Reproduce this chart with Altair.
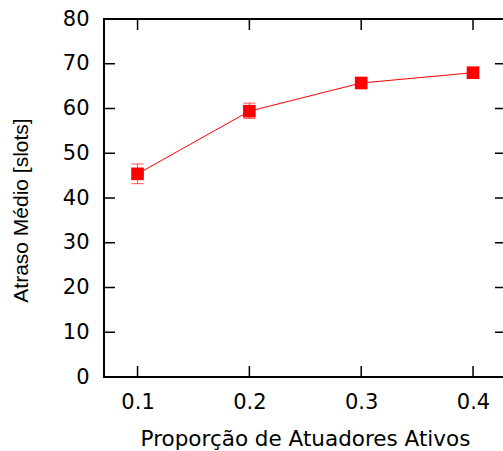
import altair as alt
import pandas as pd

proporcao = [0.1, 0.2, 0.3, 0.4]
atraso = [45.4, 59.4, 65.7, 68.0]
erro_inf = [43.2, 57.8, 65.2, 67.6]
erro_sup = [47.6, 61.2, 66.2, 68.4]

x_ticks = [0.1, 0.2, 0.3, 0.4]
y_ticks = [0, 10, 20, 30, 40, 50, 60, 70, 80]

W, H = 399, 358
TICK = 11
FONT_H = "DejaVu Sans"
FONT_V = "Liberation Sans"

df = pd.DataFrame({"x": proporcao, "y": atraso, "lo": erro_inf, "hi": erro_sup})
dfx = pd.DataFrame({"x": x_ticks})
dfy = pd.DataFrame({"y": y_ticks})

xscale = alt.Scale(domain=[0.07, 0.4268], nice=False, zero=False)
yscale = alt.Scale(domain=[0, 80], nice=False)

xaxis = alt.Axis(values=x_ticks, format=".1f", ticks=False, domain=False, grid=False,
                 labelFontSize=21, labelFont=FONT_H, labelColor="black",
                 labelPadding=31, labelBaseline="alphabetic",
                 title="Proporção de Atuadores Ativos", titleFont=FONT_H, titleFontSize=21.5,
                 titleFontWeight="normal", titleColor="black",
                 titleX=201, titleY=68, titleBaseline="alphabetic")
yaxis = alt.Axis(values=y_ticks, ticks=False, domain=False, grid=False,
                 labelFontSize=21, labelFont=FONT_H, labelColor="black", labelPadding=15,
                 title="Atraso Médio [slots]", titleFont=FONT_V, titleFontSize=21,
                 titleFontWeight="normal", titleColor="black",
                 titleX=-83, titleY=H / 2 + 12, titleBaseline="middle", titleAngle=-90)

base = alt.Chart(df)

line = base.mark_line(color="#ff0000", strokeWidth=1).encode(
    x=alt.X("x:Q", scale=xscale, axis=xaxis),
    y=alt.Y("y:Q", scale=yscale, axis=yaxis),
)
err = base.mark_rule(color="#ff0000", strokeWidth=1, opacity=0.7).encode(
    x=alt.X("x:Q", scale=xscale), y=alt.Y("lo:Q", scale=yscale), y2="hi:Q")
cap_lo = base.mark_tick(color="#ff0000", thickness=1, size=12, orient="horizontal", opacity=0.7).encode(
    x=alt.X("x:Q", scale=xscale), y=alt.Y("lo:Q", scale=yscale))
cap_hi = base.mark_tick(color="#ff0000", thickness=1, size=12, orient="horizontal", opacity=0.7).encode(
    x=alt.X("x:Q", scale=xscale), y=alt.Y("hi:Q", scale=yscale))
pts = base.mark_square(color="#ff0000", size=160, opacity=1).encode(
    x=alt.X("x:Q", scale=xscale), y=alt.Y("y:Q", scale=yscale))

tick_style = dict(color="black", strokeWidth=1.5)
ty = alt.Chart(dfy)
left_ticks = ty.mark_rule(**tick_style).encode(
    x=alt.value(0), x2=alt.value(TICK), y=alt.Y("y:Q", scale=yscale))
right_ticks = ty.mark_rule(**tick_style).encode(
    x=alt.value(W - 8), x2=alt.value(W), y=alt.Y("y:Q", scale=yscale))
tx = alt.Chart(dfx)
bottom_ticks = tx.mark_rule(**tick_style).encode(
    x=alt.X("x:Q", scale=xscale), y=alt.value(H), y2=alt.value(H - TICK))
top_ticks = tx.mark_rule(**tick_style).encode(
    x=alt.X("x:Q", scale=xscale), y=alt.value(0), y2=alt.value(TICK))

border_style = dict(color="black", strokeWidth=2)
b_left = alt.Chart(dfx).mark_rule(**border_style).encode(
    x=alt.value(0), y=alt.value(0), y2=alt.value(H))
b_top = alt.Chart(dfx).mark_rule(**border_style).encode(
    x=alt.value(-1), x2=alt.value(W), y=alt.value(0))
b_bottom = alt.Chart(dfx).mark_rule(**border_style).encode(
    x=alt.value(-1), x2=alt.value(W), y=alt.value(H))

chart = alt.layer(
    left_ticks, right_ticks, bottom_ticks, top_ticks,
    err, cap_lo, cap_hi, line, pts,
    b_left, b_top, b_bottom,
).properties(
    width=W, height=H,
    padding={"left": 104, "top": 19, "right": 0, "bottom": 74},
    autosize=alt.AutoSizeParams(type="none"),
    background="white",
).configure_view(stroke=None)

chart.save("out.html", embed_options={"renderer": "svg", "actions": False})
